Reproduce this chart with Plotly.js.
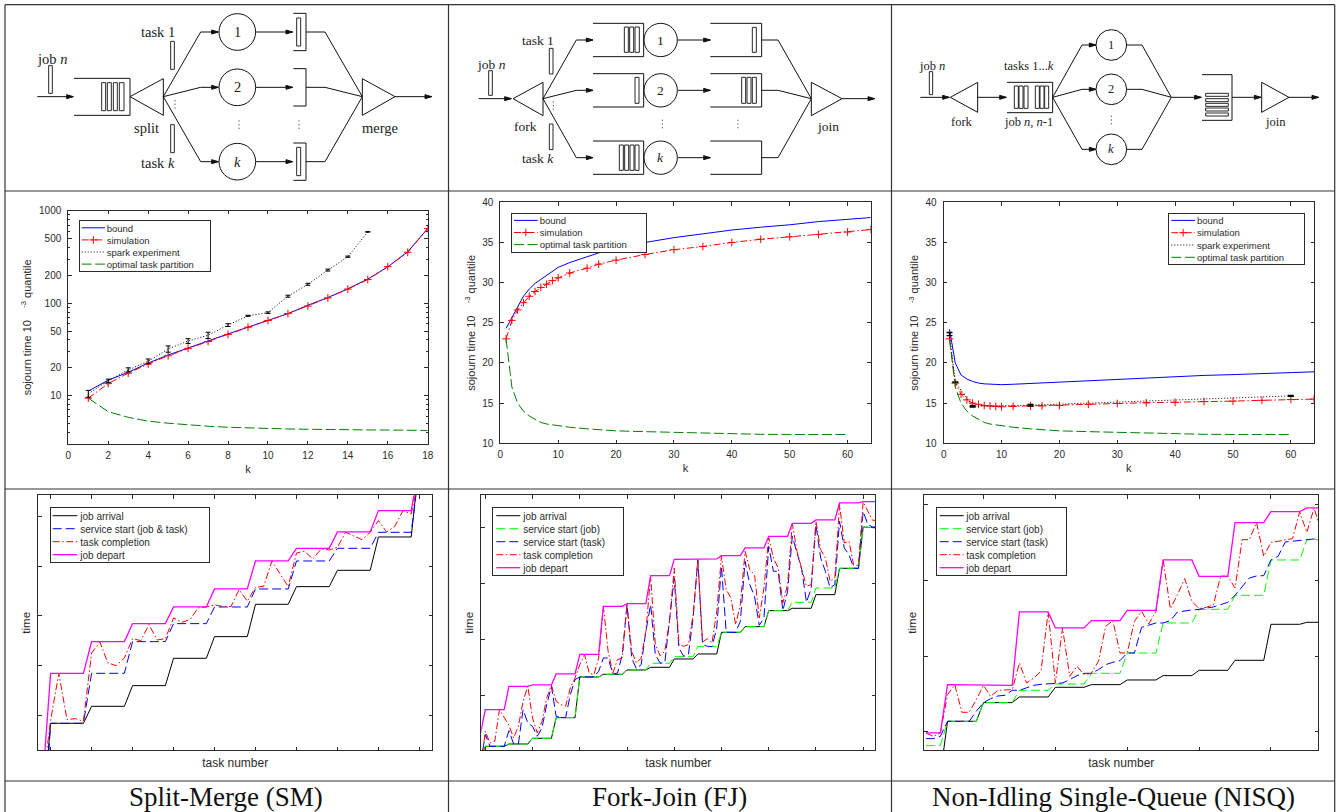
<!DOCTYPE html>
<html><head><meta charset="utf-8">
<script src="https://cdn.plot.ly/plotly-3.0.1.min.js"></script>
<style>html,body{margin:0;padding:0;background:#fff}#c{width:1343px;height:812px}</style>
</head><body><div id="c"></div>
<script>
// ---------- sojourn-time panels ----------
const kSM = [1,2,3,4,5,6,7,8,9,10,11,12,13,14,15,16,17,18];
const smBound = [11.2,14.7,17.9,22.5,27.5,33,39,46.5,55,65,77,95,115,143,182,247,360,640];
const smSim = [9.4,13.5,17.5,22,27,32.5,38.5,46,55,65,77,93,114,142,180,248,355,640];
const kSMSpark = [1,2,3,4,5,6,7,8,9,10,11,12,13,14,15];
const smSpark = [10.5,14.5,19,23.5,32,39,45,58,73,79,119,160,228,318,590];
const smSparkErr = [0.9,0.6,1,1.4,2.5,2.3,3.5,2,1,1.5,3,4,5.5,5,4];
const smOptimal = [9.4,6.7,5.83,5.3,5.03,4.82,4.67,4.55,4.47,4.4,4.36,4.33,4.29,4.27,4.26,4.25,4.22,4.2];

const kSample = [1,2,3,4,5,6,7,8,9,10,12,15,17,20,25,30,35,40,45,50,55,60,64];
const kOpt = [1,2,3,4,5,6,7,8,9,10,12,15,17,20,25,30,35,40,45,50,55,60];
const fjBound = [24.3,25.7,27,28.3,29.2,29.9,30.4,30.9,31.4,31.9,32.5,33.2,33.7,34.3,35,35.6,36.1,36.55,36.9,37.2,37.6,37.9,38.1];
const fjSim = [23,25.3,26.6,27.5,28.3,28.9,29.4,29.8,30.25,30.6,31.2,31.8,32.3,32.8,33.5,34.1,34.5,35,35.4,35.7,36,36.3,36.6];
const fjOptimal = [23,17,15,14,13.4,13,12.6,12.4,12.3,12.15,12,11.8,11.7,11.55,11.45,11.35,11.25,11.2,11.12,11.1,11.1,11.1];

const nisqBound = [24.2,20,18.5,18,17.7,17.5,17.4,17.35,17.32,17.3,17.35,17.45,17.55,17.65,17.85,18,18.15,18.3,18.45,18.55,18.65,18.75,18.9];
const nisqSim = [23,17.5,16.1,15.4,15,14.85,14.7,14.65,14.6,14.55,14.6,14.65,14.65,14.7,14.85,14.95,15.05,15.1,15.2,15.25,15.35,15.45,15.5];
const kNisqSpark = [1,2,5,15,60];
const nisqSpark = [23.6,17.6,14.6,14.75,15.9];
const nisqSparkErr = [0.2,0.05,0.08,0.1,0.06];
const nisqOptimal = [23,17,15,14,13.4,13,12.6,12.4,12.3,12.15,12,11.8,11.7,11.55,11.45,11.35,11.25,11.2,11.12,11.1,11.1,11.1];

// ---------- time-line panels (one value per task, task 0 first for SM and FJ) ----------
const smArrival = [-204,81,81,81,81,81,132,132,132,132,132,194,194,194,194,194,276,276,276,276,276,341,341,341,341,341,438,438,438,438,438,491,491,491,491,491,540,540,540,540,540,640,640,640,640,640,870];
const smStart = [-317,81,81,81,81,81,231,231,231,231,231,326,326,326,326,326,380,380,380,380,380,430,430,430,430,430,484,484,484,484,484,568,568,568,568,568,606,606,606,606,606,654,654,654,654,654,844];
const smCompletion = [-100,90,231,92,95,87,292,325,262,254,277,335,329,377,331,335,397,384,392,427,430,436,432,431,482,447,489,492,568,529,491,592,597,574,604,601,609,654,642,632,654,689,655,672,719,709,821];
const smDepart = [-103,231,231,231,231,231,326,326,326,326,326,380,380,380,380,380,430,430,430,430,430,484,484,484,484,484,568,568,568,568,568,606,606,606,606,606,655,655,655,655,655,719,719,719,719,719,857];

const fjArrival = [-40,12,12,12,12,12,19,19,19,19,19,36,36,36,36,36,98,98,98,98,98,220,220,220,220,220,228,228,228,228,228,241,241,241,241,241,249,249,249,249,249,274,274,274,274,274,289,289,289,289,289,354,354,354,354,354,371,371,371,371,371,419,419,419,419,419,426,426,426,426,426,467,467,467,467,467,546,546,546,546,546,670,670,668,667];
const fjStartJob = [-40,12,12,12,12,12,19,19,19,19,19,36,36,36,36,36,98,98,98,98,98,220,220,220,220,220,228,228,228,228,228,241,241,241,241,241,261,261,261,261,261,281,281,281,281,281,311,311,311,311,311,354,354,354,354,354,371,371,371,371,371,419,419,419,419,419,444,444,444,444,444,487,487,487,487,487,546,546,546,546,546,670,670,668,667];
const fjStartTask = [-40,47,12,12,12,12,59,19,19,122,82,72,42,67,137,192,102,98,98,167,212,220,220,220,220,237,277,277,229,232,287,437,277,244,257,357,437,287,262,262,387,517,307,282,287,397,572,317,312,311,367,552,354,354,354,387,567,497,462,375,397,612,537,537,419,477,642,592,542,444,487,677,577,537,487,497,687,607,587,546,546,717,677,670,670];
const fjCompletion = [-55,57,22,27,122,97,75,37,72,147,192,97,52,87,157,195,147,137,132,187,217,257,287,232,227,277,432,297,232,272,277,437,297,262,277,357,522,317,284,297,387,547,317,312,317,407,572,325,335,322,417,582,482,457,377,437,597,542,527,397,487,639,577,547,442,497,680,597,547,492,497,687,602,577,507,517,737,622,627,555,555,745,717,690,690];
const fjDepart = [52,122,122,122,122,122,192,192,192,192,192,196,196,196,196,196,229,229,229,229,229,288,288,288,288,288,432,432,432,432,432,440,440,440,440,440,524,524,524,524,524,573,573,573,573,573,574,574,574,574,574,584,584,584,584,584,607,607,607,607,607,642,642,642,642,642,681,681,681,681,681,691,691,691,691,691,742,742,742,742,742,746,746,746,746];

const nisqArrival = [-73,-73,-73,87,87,87,87,87,143,143,143,143,143,160,160,160,160,160,189,189,189,189,189,197,197,197,197,197,211,211,211,211,211,224,224,224,224,224,240,240,240,240,240,270,270,270,270,270,378,378,378,378,378,384,384,384];
const nisqStartJob = [14,14,14,87,87,87,87,87,143,143,143,143,143,180,180,180,180,180,199,199,199,199,199,231,231,231,231,231,292,292,292,292,292,382,382,382,382,382,423,423,423,423,423,465,465,465,465,465,571,571,571,571,571,632,632,632];
const nisqStartTask = [35,35,42,87,87,87,87,117,143,155,163,165,180,180,187,195,198,200,200,202,212,224,231,231,242,257,264,269,292,292,369,375,382,382,389,415,419,421,423,427,430,437,444,465,492,517,523,524,571,582,625,627,630,633,634,634];
const nisqCompletion = [52,42,52,167,197,114,114,152,195,162,180,181,182,262,202,217,237,415,202,367,222,252,227,231,267,372,389,292,292,387,417,379,417,571,425,467,515,447,425,429,437,523,522,487,632,632,683,582,624,627,632,635,715,654,727,657];
const nisqDepart = [52,52,52,197,197,197,197,197,195,195,195,195,195,415,415,415,415,415,367,367,367,367,367,389,389,389,389,389,420,420,420,420,420,571,571,571,571,571,522,522,522,522,522,683,683,683,683,683,716,716,716,716,716,727,727,727];

const seq = (a, b) => { const o = []; for (let i = a; i <= b; i++) o.push(i); return o; };
const taskSM = seq(0, 46), taskFJ = seq(0, 84), taskNISQ = seq(3, 58);

const captions = ['Split-Merge (SM)', 'Fork-Join (FJ)', 'Non-Idling Single-Queue (NISQ)'];
const yTitle = 'sojourn time 10\u00a0\u00a0\u00a0\u00a0<sup>-3</sup>\u00a0quantile\u00a0\u00a0\u00a0';

// ---------- helpers ----------
const W = 1343, H = 812;
const SANS = '"Liberation Sans", Arial, sans-serif', SERIF = '"Liberation Serif", "Times New Roman", serif';
const INK = '#2b2b2b';
const px = x => x / W, py = y => 1 - y / H;

const DASH = {solid: 'solid', dd: '7px,2.5px,1.5px,2.5px', dot: '1px,2px', dash: '10px,3.5px', bdash: '9px,4px'};
const traces = [];
function add(n, name, x, y, color, dash, extra) {
  traces.push(Object.assign({type: 'scatter', mode: 'lines', name, x, y, xaxis: 'x' + n, yaxis: 'y' + n,
    legend: n === 1 ? 'legend' : 'legend' + n, line: {color, width: 1, dash: DASH[dash]}, hoverinfo: 'skip'}, extra || {}));
}
const cross = {mode: 'lines+markers', marker: {symbol: 'cross-thin', size: 5.5, color: '#ff0000', line: {color: '#ff0000', width: 1}}};

add(1, 'bound', kSM, smBound, '#0000ff', 'solid');
add(1, 'simulation', kSM, smSim, '#ff0000', 'dd', cross);
add(1, 'spark experiment', kSMSpark, smSpark, '#000000', 'dot', {error_y: {type: 'data', array: smSparkErr, color: '#000', thickness: 1, width: 2.5}});
add(1, 'optimal task partition', kSM, smOptimal, '#008000', 'dash');

add(2, 'bound', kSample, fjBound, '#0000ff', 'solid');
add(2, 'simulation', kSample, fjSim, '#ff0000', 'dd', cross);
add(2, 'optimal task partition', kOpt, fjOptimal, '#008000', 'dash');

add(3, 'bound', kSample, nisqBound, '#0000ff', 'solid');
add(3, 'simulation', kSample, nisqSim, '#ff0000', 'dd', cross);
add(3, 'spark experiment', kNisqSpark, nisqSpark, '#000000', 'dot', {error_y: {type: 'data', array: nisqSparkErr, color: '#000', thickness: 1.4, width: 3}});
add(3, 'optimal task partition', kOpt, nisqOptimal, '#008000', 'dash');

add(4, 'job arrival', taskSM, smArrival, '#000000', 'solid');
add(4, 'service start (job & task)', taskSM, smStart, '#0000ff', 'bdash');
add(4, 'task completion', taskSM, smCompletion, '#ff0000', 'dd');
add(4, 'job depart', taskSM, smDepart, '#ff00ff', 'solid', {line: {color: '#ff00ff', width: 1.3}});

add(5, 'job arrival', taskFJ, fjArrival, '#000000', 'solid');
add(5, 'service start (job)', taskFJ, fjStartJob, '#00ff00', 'bdash');
add(5, 'service start (task)', taskFJ, fjStartTask, '#0000ff', 'bdash');
add(5, 'task completion', taskFJ, fjCompletion, '#ff0000', 'dd');
add(5, 'job depart', taskFJ, fjDepart, '#ff00ff', 'solid', {line: {color: '#ff00ff', width: 1.3}});

add(6, 'job arrival', taskNISQ, nisqArrival, '#000000', 'solid');
add(6, 'service start (job)', taskNISQ, nisqStartJob, '#00ff00', 'bdash');
add(6, 'service start (task)', taskNISQ, nisqStartTask, '#0000ff', 'bdash');
add(6, 'task completion', taskNISQ, nisqCompletion, '#ff0000', 'dd');
add(6, 'job depart', taskNISQ, nisqDepart, '#ff00ff', 'solid', {line: {color: '#ff00ff', width: 1.3}});

// ---------- layout ----------
const layout = {width: W, height: H, margin: {l: 0, r: 0, t: 0, b: 0, pad: 0}, paper_bgcolor: '#fff', plot_bgcolor: 'rgba(0,0,0,0)',
  showlegend: true, hovermode: false, font: {family: SANS, size: 10, color: INK}, shapes: [], annotations: []};

function axes(n, L, R, T, B, xa, ya) {
  const base = {showgrid: false, zeroline: false, showline: true, linecolor: INK, linewidth: 1, mirror: 'all', ticks: 'inside',
    ticklen: 3.5, tickwidth: 1, tickcolor: INK, tickfont: {family: SANS, size: 10, color: INK}, automargin: false, layer: 'above traces'};
  const s = n === 1 ? '' : n;
  layout['xaxis' + s] = Object.assign({}, base, {domain: [px(L), px(R)], anchor: 'y' + s, ticklabelstandoff: 2}, xa);
  layout['yaxis' + s] = Object.assign({}, base, {domain: [py(B), py(T)], anchor: 'x' + s, ticklabelstandoff: 4}, ya);
}
// box of each legend: left, top, width, height, first-row offset, row spacing, sample start, sample length, text offset, font size
const legendBoxes = {
  legend:  [78.7, 220.3, 131.3, 50.7, 7.5, 12.1, 3, 23.3, 28, 9.5],
  legend2: [510.7, 212.7, 135.3, 39.3, 7.7, 12.1, 3.3, 23.7, 29, 9.5],
  legend3: [1168, 212.7, 135.7, 51.6, 7.7, 12.3, 3.3, 23.7, 29, 9.5],
  legend4: [49.7, 506.7, 159.3, 55.3, 9, 13, 3, 24.6, 30.6, 10],
  legend5: [492.3, 506.7, 130.4, 68.3, 9, 13, 4, 24, 31, 10],
  legend6: [935.7, 506.7, 130.3, 68.3, 9, 13, 4, 24, 30.6, 10]
};
Object.keys(legendBoxes).forEach(id => {
  const b = legendBoxes[id];
  layout[id] = {x: px(b[0]), y: py(b[1]), xanchor: 'left', yanchor: 'top', bgcolor: '#fff', bordercolor: INK, borderwidth: 1,
    font: {family: SANS, size: b[9], color: INK}, tracegroupgap: 0, itemwidth: 30, traceorder: 'normal', itemclick: false};
});
const ttl = (text, standoff, size) => ({text, standoff, font: {family: SANS, size: size || 11, color: INK}});
const logMinor = [4,5,6,7,8,9,30,40,60,70,80,90,300,400,600,700,800,900];

axes(1, 68.3, 427.7, 210.7, 444, {range: [0, 18], tickvals: [0,2,4,6,8,10,12,14,16,18], ticktext: ['0','2','4','6','8','10','12','14','16','18'], title: ttl('k', 5)},
  {type: 'log', range: [Math.log10(3), 3], tickvals: [10,20,50,100,200,500,1000], ticktext: ['10','20','50','100','200','500','1000'], title: ttl(yTitle, 5),
   minor: {tickmode: 'array', tickvals: logMinor, ticks: 'inside', ticklen: 2, tickwidth: 1, tickcolor: INK}});
const kAxis = {range: [0, 64], tickvals: [0,10,20,30,40,50,60], title: ttl('k', 5)};
const qAxis = {range: [10, 40], tickvals: [10,15,20,25,30,35,40], title: ttl(yTitle, 4)};
axes(2, 500.3, 870.7, 202.3, 443.3, kAxis, qAxis);
axes(3, 943.7, 1314, 202.3, 443.3, kAxis, qAxis);
const tn = ttl('task number\u00a0\u00a0\u00a0\u00a0', 8, 12), tm = ttl('time\u00a0\u00a0\u00a0', 4, 11.5);
axes(4, 38.3, 432, 495.3, 750.3, {range: [-0.505, 47.54], tickvals: [1,6,11,16,21,26,31,36,41,46], showticklabels: false, title: tn},
  {range: [0, 765], tickvals: [105,254,403,552,700], showticklabels: false, title: tm});
axes(5, 481.3, 875.3, 495.3, 750.3, {range: [0.153, 83.57], tickvals: [1,11,21,31,41,51,61,71,81], showticklabels: false, title: tn},
  {range: [0, 765], tickvals: [163,331,499,667], showticklabels: false, title: tm});
axes(6, 924.3, 1318.3, 495.3, 750.3, {range: [2.763, 57.59], tickvals: [11,21,31,41,51], showticklabels: false, title: tn},
  {range: [0, 765], tickvals: [55,281,509,737], showticklabels: false, title: tm});

// ---------- table frame ----------
const FRAME = '#333';
function frame(x0, y0, x1, y1) {
  layout.shapes.push({type: 'line', xref: 'paper', yref: 'paper', x0: px(x0), y0: py(y0), x1: px(x1), y1: py(y1), line: {color: FRAME, width: 1.2}, layer: 'below'});
}
[5, 448.5, 891.5, 1334.7].forEach(x => frame(x, 4.7, x, 812));
[4.7, 191, 489, 781].forEach(y => frame(5, y, 1334.7, y));

// ---------- queueing diagrams: coordinates are in 1/3 pixel inside each cell ----------
function Diagram(ox, size) {
  const X = x => px(ox + x / 3), Y = y => py(y / 3), L = {color: '#111', width: 1};
  const sh = o => layout.shapes.push(Object.assign({xref: 'paper', yref: 'paper'}, o));
  const d = {
    line(pts) { for (let i = 1; i < pts.length; i++) sh({type: 'line', x0: X(pts[i-1][0]), y0: Y(pts[i-1][1]), x1: X(pts[i][0]), y1: Y(pts[i][1]), line: L}); },
    rect(x0, y0, x1, y1) { sh({type: 'rect', x0: X(x0), y0: Y(y0), x1: X(x1), y1: Y(y1), line: {color: '#111', width: 0.9}, fillcolor: '#fff'}); },
    circle(cx, cy, r) { sh({type: 'circle', x0: X(cx - r), y0: Y(cy - r), x1: X(cx + r), y1: Y(cy + r), line: L}); },
    poly(pts, fill) { sh({type: 'path', path: 'M' + pts.map(p => X(p[0]) + ',' + Y(p[1])).join('L') + 'Z', line: L, fillcolor: fill || '#fff'}); },
    arrow(pts) { d.line(pts); const e = pts[pts.length - 1]; d.poly([[e[0], e[1]], [e[0] - 20, e[1] - 6], [e[0] - 20, e[1] + 6]], '#111'); },
    text(x, y, t) { layout.annotations.push({xref: 'paper', yref: 'paper', x: X(x), y: Y(y), text: t, showarrow: false, xanchor: 'center', yanchor: 'middle',
      font: {family: SERIF, size, color: '#222'}}); },
    dots(x, y) { [-11, 0, 11].forEach(o => sh({type: 'rect', x0: X(x - 1.5), y0: Y(y + o - 1.5), x1: X(x + 1.5), y1: Y(y + o + 1.5), line: {width: 0}, fillcolor: '#222'})); }
  };
  return d;
}

// Split-Merge
(function () {
  const d = Diagram(0, 14.5);
  d.text(155, 178, 'job <i>n</i>'); d.rect(146, 197, 157, 280); d.arrow([[112, 290], [220, 290]]);
  d.line([[222, 235], [390, 235], [390, 346], [222, 346]]);
  [[305, 317], [322, 334], [340, 352], [358, 372]].forEach(r => d.rect(r[0], 248, r[1], 332));
  d.poly([[390, 290], [490, 236], [490, 346]]);
  d.rect(512, 124, 523, 208); d.rect(512, 374, 523, 458);
  d.text(475, 97, 'task 1'); d.text(440, 384, 'split'); d.text(475, 488, 'task <i>k</i>'); d.text(1140, 384, 'merge');
  [[96, '1'], [262, '2'], [485, '<i>k</i>']].forEach(r => {
    d.arrow([[490, 290], [602, r[0]], [655, r[0]]]);
    d.circle(712, r[0], 55); d.text(712, r[0], r[1]);
    d.arrow([[768, r[0]], [878, r[0]]]);
    d.line([[880, r[0] - 56], [918, r[0] - 56], [918, r[0] + 56], [880, r[0] + 56]]);
    d.line([[918, r[0]], [975, r[0]], [1087, 290]]);
  });
  d.rect(890, 54, 902, 138); d.rect(890, 442, 902, 527);
  d.poly([[1087, 236], [1087, 346], [1185, 290]]); d.arrow([[1185, 290], [1295, 290]]);
  d.dots(525, 313); d.dots(717, 374); d.dots(897, 374);
})();
// Fork-Join
(function () {
  const d = Diagram(448, 13.5);
  d.text(130, 192, 'job <i>n</i>'); d.rect(122, 212, 133, 286); d.arrow([[92, 296], [190, 296]]);
  d.poly([[195, 296], [285, 247], [285, 347]]);
  d.rect(304, 145, 315, 222); d.rect(304, 372, 315, 449);
  d.text(270, 120, 'task 1'); d.text(233, 380, 'fork'); d.text(270, 474, 'task <i>k</i>'); d.text(1140, 380, 'join');
  [[120, '1'], [271, '2'], [473, '<i>k</i>']].forEach(r => {
    d.arrow([[285, 296], [385, r[0]], [435, r[0]]]);
    d.line([[435, r[0] - 50], [587, r[0] - 50], [587, r[0] + 50], [435, r[0] + 50]]);
    d.circle(638, r[0], 50); d.text(638, r[0], r[1]);
    d.arrow([[690, r[0]], [787, r[0]]]);
    d.line([[787, r[0] - 50], [941, r[0] - 50], [941, r[0] + 50], [787, r[0] + 50]]);
    d.line([[941, r[0]], [990, r[0]], [1090, 296]]);
  });
  [[529, 541], [545, 557], [561, 574]].forEach(r => d.rect(r[0], 81, r[1], 157));
  d.rect(561, 232, 573, 310);
  [[514, 526], [530, 542], [546, 558], [561, 573]].forEach(r => d.rect(r[0], 435, r[1], 511));
  d.rect(913, 82, 925, 157);
  [[881, 893], [897, 909], [913, 925]].forEach(r => d.rect(r[0], 232, r[1], 310));
  d.poly([[1090, 247], [1090, 347], [1182, 296]]); d.arrow([[1182, 296], [1280, 296]]);
  d.dots(316, 317); d.dots(643, 372); d.dots(870, 372);
})();
// Non-Idling Single-Queue
(function () {
  const d = Diagram(892, 12.5);
  d.text(120, 197, 'job <i>n</i>'); d.rect(112, 215, 122, 284); d.arrow([[85, 292], [172, 292]]);
  d.poly([[175, 292], [257, 247], [257, 337]]); d.arrow([[257, 292], [343, 292]]);
  d.text(210, 367, 'fork'); d.text(410, 197, 'tasks 1...<i>k</i>'); d.text(410, 367, 'job <i>n</i>, <i>n</i>-1'); d.text(1150, 367, 'join');
  d.line([[345, 247], [482, 247], [482, 338], [345, 338]]);
  [[367, 379], [381, 393], [396, 408], [430, 442], [444, 456], [458, 470]].forEach(r => d.rect(r[0], 258, r[1], 325));
  [[135, '1'], [268, '2'], [448, '<i>k</i>']].forEach(r => {
    d.arrow([[482, 292], [570, r[0]], [612, r[0]]]);
    d.circle(658, r[0], 46); d.text(658, r[0], r[1]);
    d.line([[704, r[0]], [750, r[0]], [838, 292]]);
  });
  d.arrow([[838, 292], [928, 292]]);
  d.line([[930, 224], [1020, 224], [1020, 361], [930, 361]]);
  [280, 296, 310, 324, 339].forEach(y => d.rect(941, y, 1009, y + 9));
  d.arrow([[1020, 292], [1107, 292]]);
  d.poly([[1109, 247], [1109, 337], [1191, 292]]); d.arrow([[1191, 292], [1280, 292]]);
  d.dots(658, 360);
})();

// ---------- captions ----------
[226, 669, 1113].forEach((x, i) => layout.annotations.push({xref: 'paper', yref: 'paper', x: px(x), y: py(797), text: captions[i], showarrow: false,
  xanchor: 'center', yanchor: 'middle', font: {family: SERIF, size: 27, color: '#111'}}));

// Plotly's legend has a minimum row height of 19px: tighten the rows of the drawn legends to the reference's compact boxes.
function tightenLegends(gd) {
  Object.keys(legendBoxes).forEach(id => {
    const b = legendBoxes[id], g = gd.querySelector('.infolayer > .' + id);
    if (!g) return;
    const bg = g.querySelector('rect.bg');
    bg.setAttribute('width', b[2]); bg.setAttribute('height', b[3]);
    g.querySelector('.scrollbox').removeAttribute('clip-path');
    g.querySelectorAll('.traces').forEach((tr, i) => {
      tr.setAttribute('transform', 'translate(0,' + (b[4] + b[5] * i) + ')');
      tr.querySelectorAll('text').forEach(t => t.setAttribute('x', b[8]));
      tr.querySelectorAll('.legendlines path').forEach(p => p.setAttribute('d', 'M' + b[6] + ',0h' + b[7]));
      tr.querySelectorAll('.legendpoints path').forEach(p => p.setAttribute('transform', 'translate(' + (b[6] + b[7] / 2) + ',0)'));
      tr.querySelectorAll('.legendtoggle').forEach(t => t.remove());
    });
  });
  // drop empty placeholder text nodes that Plotly leaves behind
  document.querySelectorAll('text').forEach(t => {
    let w = 1;
    try { w = t.getBBox().width; } catch (e) { w = 0; }
    if (!t.textContent.trim() || !w) t.remove();
  });
}
const gd = document.getElementById('c');
Plotly.newPlot(gd, traces, layout, {displayModeBar: false, staticPlot: true}).then(() => tightenLegends(gd));
</script></body></html>
